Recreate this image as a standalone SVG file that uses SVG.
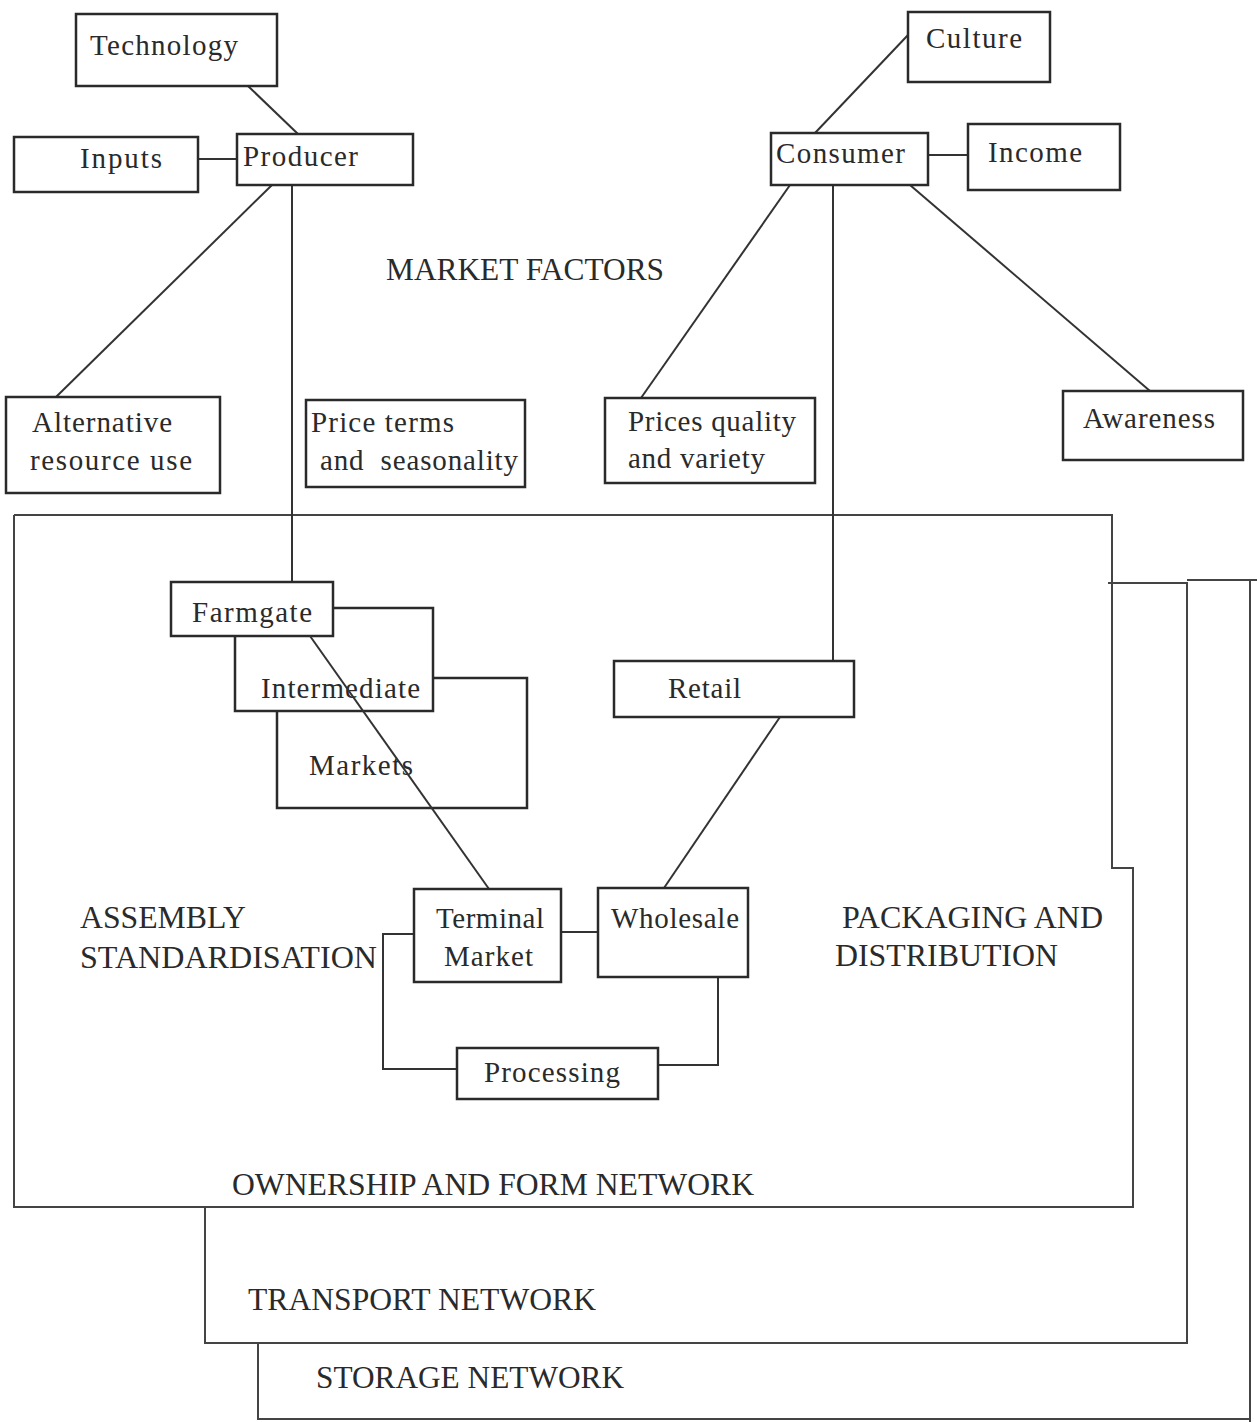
<svg xmlns="http://www.w3.org/2000/svg" width="1260" height="1422" viewBox="0 0 1260 1422">
<style>
.b{fill:#fff;stroke:#2a2a2a;stroke-width:2.5}
.l{fill:none;stroke:#333;stroke-width:2}
.n{fill:none;stroke:#444;stroke-width:2}
text{font-family:"Liberation Serif","Times New Roman",serif;font-size:29px;fill:#2a2a2a}
.c{font-size:31px}
</style>
<rect width="1260" height="1422" fill="#fff"/>
<g id="networks">
<path class="n" d="M14,515 H1113 M1112,515 V868 H1133 V1207 H14 V515"/>
<path class="n" d="M1108,583 H1187 V1343 H205 V1207"/>
<path class="n" d="M1187,580 H1257 M1250,580 V1422 M258,1343 V1419 H1250"/>
<text class="c" x="232" y="1195" textLength="522" lengthAdjust="spacingAndGlyphs">OWNERSHIP AND FORM NETWORK</text>
<text class="c" x="248" y="1310" textLength="348" lengthAdjust="spacingAndGlyphs">TRANSPORT NETWORK</text>
<text class="c" x="316" y="1388" textLength="308" lengthAdjust="spacingAndGlyphs">STORAGE NETWORK</text>
</g>
<g id="labels">
<text class="c" x="386" y="280" textLength="278" lengthAdjust="spacingAndGlyphs">MARKET FACTORS</text>
<text class="c" x="80" y="928" textLength="166" lengthAdjust="spacingAndGlyphs">ASSEMBLY</text>
<text class="c" x="80" y="968" textLength="297" lengthAdjust="spacingAndGlyphs">STANDARDISATION</text>
<text class="c" x="842" y="928" textLength="261" lengthAdjust="spacingAndGlyphs">PACKAGING AND</text>
<text class="c" x="835" y="966" textLength="223" lengthAdjust="spacingAndGlyphs">DISTRIBUTION</text>
</g>
<g id="connectors">
<line class="l" x1="248" y1="86" x2="298" y2="134"/>
<line class="l" x1="198" y1="159" x2="237" y2="159"/>
<line class="l" x1="908" y1="35" x2="815" y2="133"/>
<line class="l" x1="928" y1="155" x2="968" y2="155"/>
<line class="l" x1="272" y1="185" x2="56" y2="397"/>
<line class="l" x1="292" y1="185" x2="292" y2="582"/>
<line class="l" x1="790" y1="185" x2="641" y2="398"/>
<line class="l" x1="833" y1="185" x2="833" y2="661"/>
<line class="l" x1="910" y1="185" x2="1150" y2="391"/>
<line class="l" x1="780" y1="717" x2="664" y2="888"/>
<line class="l" x1="561" y1="932" x2="598" y2="932"/>
<path class="l" d="M414,934 H383 V1069 H457"/>
<path class="l" d="M718,977 V1065 H658"/>
</g>
<g id="technology"><rect class="b" x="76" y="14" width="201" height="72"/><text x="90" y="55" textLength="148">Technology</text></g>
<g id="inputs"><rect class="b" x="14" y="137" width="184" height="55"/><text x="80" y="168" textLength="82">Inputs</text></g>
<g id="producer"><rect class="b" x="237" y="134" width="176" height="51"/><text x="243" y="166" textLength="115">Producer</text></g>
<g id="culture"><rect class="b" x="908" y="12" width="142" height="70"/><text x="926" y="48" textLength="96">Culture</text></g>
<g id="consumer"><rect class="b" x="771" y="133" width="157" height="52"/><text x="776" y="163" textLength="129">Consumer</text></g>
<g id="income"><rect class="b" x="968" y="124" width="152" height="66"/><text x="988" y="162" textLength="94">Income</text></g>
<g id="alternative"><rect class="b" x="6" y="397" width="214" height="96"/><text x="32" y="432" textLength="140">Alternative</text><text x="30" y="470" textLength="162">resource use</text></g>
<g id="price-terms"><rect class="b" x="306" y="400" width="219" height="87"/><text x="311" y="432" textLength="143">Price terms</text><text x="320" y="470" textLength="198" xml:space="preserve">and  seasonality</text></g>
<g id="prices-quality"><rect class="b" x="605" y="398" width="210" height="85"/><text x="628" y="431" textLength="168">Prices quality</text><text x="628" y="468" textLength="137">and variety</text></g>
<g id="awareness"><rect class="b" x="1063" y="391" width="180" height="69"/><text x="1083" y="428" textLength="132">Awareness</text></g>
<g id="markets"><rect class="b" x="277" y="678" width="250" height="130"/><text x="309" y="775" textLength="104">Markets</text></g>
<g id="intermediate"><rect class="b" x="235" y="608" width="198" height="103"/><text x="261" y="698" textLength="159">Intermediate</text></g>
<g id="farmgate"><rect class="b" x="171" y="582" width="162" height="54"/><text x="192" y="622" textLength="120">Farmgate</text></g>
<g id="farmgate-link"><line class="l" x1="310" y1="636" x2="489" y2="889"/></g>
<g id="retail"><rect class="b" x="614" y="661" width="240" height="56"/><text x="668" y="698" textLength="73">Retail</text></g>
<g id="terminal-market"><rect class="b" x="414" y="889" width="147" height="93"/><text x="436" y="928" textLength="108">Terminal</text><text x="444" y="966" textLength="89">Market</text></g>
<g id="wholesale"><rect class="b" x="598" y="888" width="150" height="89"/><text x="611" y="928" textLength="128">Wholesale</text></g>
<g id="processing"><rect class="b" x="457" y="1048" width="201" height="51"/><text x="484" y="1082" textLength="136">Processing</text></g>
</svg>
